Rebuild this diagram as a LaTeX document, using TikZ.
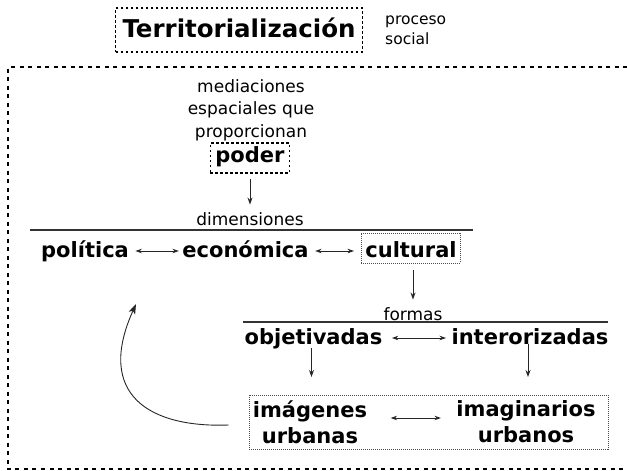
\documentclass[tikz,border=0pt]{standalone}
\usepackage{fontspec}
\setmainfont{DejaVu Sans}
\usetikzlibrary{arrows.meta}
\begin{document}
\begin{tikzpicture}[x=1pt,y=-1pt,
  big/.style={font=\fontsize{21}{26}\selectfont\bfseries},
  small/.style={font=\fontsize{17}{22.5}\selectfont},
  arr/.style={draw=black!85, line width=0.9pt, -{Stealth[length=7pt,width=5pt]}},
  dbl/.style={draw=black!85, line width=0.9pt, {Stealth[length=6.5pt,width=4.5pt]}-{Stealth[length=6.5pt,width=4.5pt]}},
  hrule/.style={draw=black!80, line width=1.4pt},
  finebox/.style={draw=black!70, line width=0.6pt, dash pattern=on 1pt off 1pt},
  medbox/.style={draw=black, line width=1.3pt, dash pattern=on 2.5pt off 2.5pt},
  bigbox/.style={draw=black, line width=2pt, dash pattern=on 4pt off 4.5pt}]
\useasboundingbox (0,0) rectangle (627,471);

% title
\node[medbox, font=\fontsize{24.5}{28}\selectfont\bfseries, anchor=base,
  text height=21pt, text depth=7pt, inner ysep=8pt, inner xsep=7pt] (title) at (239,37) {Territorialización};
\node[font=\fontsize{15.5}{20}\selectfont, align=left, anchor=west, inner sep=0pt] (proc) at (385,30) {proceso\\social};

% outer box
\draw[bigbox] (627,67) -| (8,469) -- (627,469);

% mediaciones
\node[small, align=center] (med) at (251,110) {mediaciones\\espaciales que\\proporcionan};
\node[medbox, font=\fontsize{21}{26}\selectfont\bfseries, anchor=base,
  text height=16pt, text depth=8pt, inner ysep=3pt, inner xsep=5pt] (pod) at (250,162) {poder};

% dimensiones
\node[small, anchor=base] (dim) at (250,225) {dimensiones};
\coordinate (r1a) at (30,230);
\coordinate (r1b) at (473,230);
\draw[hrule] (r1a) -- (r1b);
\draw[arr, shorten <=5pt, shorten >=4pt] (pod.south) -- (dim.north);

\node[big, anchor=base] (pol) at (85,257) {política};
\node[big, anchor=base] (eco) at (245.5,257) {económica};
\node[big, finebox, anchor=base, text height=20pt, text depth=2pt, inner ysep=4pt, inner xsep=4pt] (cul) at (411,257) {cultural};
\draw[dbl, shorten <=3pt] (pol.east |- 0,251) -- (eco.west |- 0,251);
\draw[dbl, shorten <=3pt, shorten >=7pt] (eco.east |- 0,251) -- (cul.west |- 0,251);

% formas
\node[small, anchor=base] (for) at (413,320) {formas};
\coordinate (r2a) at (243,322);
\coordinate (r2b) at (608,322);
\draw[hrule] (r2a) -- (r2b);
\draw[arr, shorten <=7pt, shorten >=4pt] (cul.south -| for.north) -- (for.north);

\node[big, anchor=base] (obj) at (313.5,344) {objetivadas};
\node[big, anchor=base] (int) at (530,344) {interorizadas};
\draw[dbl, shorten <=6pt, shorten >=2pt] (obj.east |- 0,338) -- (int.west |- 0,338);

% bottom box
\node[finebox, minimum width=359pt, minimum height=54pt, inner sep=0pt] (box) at (428.5,422) {};
\node[big, align=center] (img) at (310,422) {imágenes\\urbanas};
\node[big, align=center] (imag) at (526,422) {imaginarios\\urbanos};
\draw[dbl, shorten <=20pt, shorten >=12pt] (img.east |- 0,418) -- (imag.west |- 0,418);

\draw[arr] ([xshift=-2pt]obj.south) ++(0,-4) -- ([xshift=-2pt]obj.south |- 0,377);
\draw[arr] ([xshift=-2pt]int.south) ++(0,-4) -- ([xshift=-2pt]int.south |- 0,377);

% return arrow
\coordinate (ret) at (136,304);
\draw[draw=black!85, line width=0.9pt, -{Stealth[length=10pt,width=7pt,inset=2.5pt]}]
  ([xshift=-20pt,yshift=-3pt]box.west) .. controls (150,428) and (95,395) .. (ret);
\end{tikzpicture}
\end{document}
